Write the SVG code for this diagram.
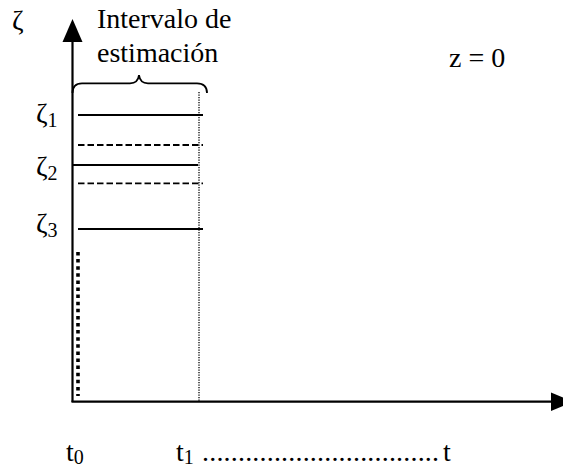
<svg xmlns="http://www.w3.org/2000/svg" width="563" height="470" viewBox="0 0 563 470">
<style>
text{font-family:"Liberation Serif","Times New Roman",serif;font-size:28px;fill:#000}
.sub{font-size:20px}
.ax{stroke:#000;stroke-width:2.2;fill:none}
.solid{stroke:#000;stroke-width:1.8;fill:none}
.dash{stroke:#000;stroke-width:1.8;stroke-dasharray:6.5 3;fill:none}
</style>
<rect width="563" height="470" fill="#fff"/>
<g id="connectors">
<line class="ax" x1="72.5" y1="40" x2="72.5" y2="402"/>
<polygon points="62.5,42 82.5,42 72.5,19" fill="#000"/>
<line class="ax" x1="71.5" y1="401.7" x2="552" y2="401.7"/>
<polygon points="551,392.5 551,411 573,401.7" fill="#000"/>
<line x1="199" y1="92" x2="199" y2="401" stroke="#000" stroke-width="1.3" stroke-dasharray="1.2 1.3"/>
<line x1="78" y1="252" x2="78" y2="396" stroke="#000" stroke-width="3.6" stroke-dasharray="3.5 3.6"/>
<path class="solid" d="M72.5,93 Q72.5,83.3 82,83.3 L130,83.3 Q138,83.3 139,75 Q140,83.3 148,83.3 L197,83.3 Q207,83.3 207,93"/>
</g>
<g id="level1"><line class="solid" x1="78" y1="115" x2="203" y2="115"/><text x="36" y="123">ζ<tspan class="sub" dy="4">1</tspan></text></g>
<g id="dash1"><line class="dash" x1="78" y1="145" x2="203" y2="145"/></g>
<g id="level2"><line class="solid" x1="72" y1="165" x2="198" y2="165"/><text x="36" y="176">ζ<tspan class="sub" dy="4">2</tspan></text></g>
<g id="dash2"><line class="dash" x1="78" y1="183.3" x2="203" y2="183.3"/></g>
<g id="level3"><line class="solid" x1="78" y1="229" x2="203" y2="229"/><text x="36" y="233">ζ<tspan class="sub" dy="4">3</tspan></text></g>
<g id="axis-label"><text x="12" y="30">ζ</text></g>
<g id="interval-label"><text x="97" y="28">Intervalo de</text><text x="97" y="62">estimación</text></g>
<g id="z-label"><text x="449" y="67">z = 0</text></g>
<g id="t0"><text x="66" y="461">t<tspan class="sub" dy="3">0</tspan></text></g>
<g id="t1"><text x="176" y="461">t<tspan class="sub" dy="3">1</tspan></text><text x="202" y="461" textLength="237" lengthAdjust="spacing">.................................</text><text x="443" y="461">t</text></g>
</svg>
